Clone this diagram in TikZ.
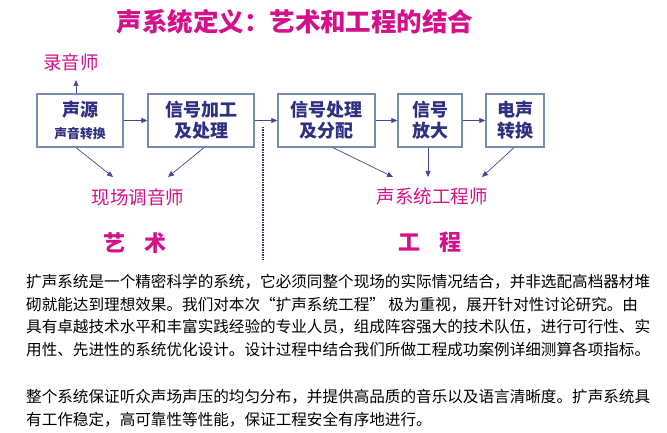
\documentclass[tikz,border=0pt]{standalone}
\usepackage{fontspec}
\newfontfamily\cjk{Noto Sans CJK SC}
\usetikzlibrary{arrows.meta}
\definecolor{mag}{RGB}{212,16,138}
\definecolor{navy}{RGB}{48,48,130}
\definecolor{boxline}{RGB}{120,140,178}
\definecolor{arr}{RGB}{70,70,150}
\tikzset{
  stagebox/.style={draw=boxline,line width=1.3pt,minimum height=53pt,inner sep=0pt,
    text=navy,align=center,font=\cjk\bfseries\fontsize{18}{21}\selectfont},
  flow/.style={draw=arr,line width=0.7pt,-{Triangle[length=6pt,width=5pt]}},
  role/.style={text=mag,font=\cjk\fontsize{18.5}{20}\selectfont,inner sep=0pt},
  para/.style={anchor=west,inner sep=0pt,font=\cjk\fontsize{15.6}{18}\selectfont}
}
\begin{document}
\begin{tikzpicture}[x=1pt,y=-1pt]
\useasboundingbox[fill=white] (0,0) rectangle (667,433);
% title
\node[text=mag,font=\cjk\bfseries\fontsize{25.5}{28}\selectfont,inner sep=0pt] (title) at (295,22) {声系统定义：艺术和工程的结合};
% boxes
\node[stagebox,minimum width=86pt] (b1) at (80,120.5) {\fontsize{18}{26}\selectfont 声源\\[1pt]{\fontsize{12.8}{14}\selectfont 声音转换}};
\node[stagebox,minimum width=106pt] (b2) at (201,120.5) {信号加工\\及处理};
\node[stagebox,minimum width=97pt] (b3) at (326.5,120.5) {信号处理\\及分配};
\node[stagebox,minimum width=64pt] (b4) at (430,120.5) {信号\\放大};
\node[stagebox,minimum width=58pt] (b5) at (515,120.5) {电声\\转换};
% roles
\node[role] (rec) at (71,62) {录音师};
\node[role] (live) at (138,197) {现场调音师};
\node[role] (eng) at (432,196) {声系统工程师};
\node[text=mag,font=\cjk\bfseries\fontsize{22}{24}\selectfont,inner sep=0pt] (art) at (135,243) {艺\hspace{0.9em}术};
\node[text=mag,font=\cjk\bfseries\fontsize{22}{24}\selectfont,inner sep=0pt] (gc) at (430,242) {工\hspace{0.9em}程};
% arrow targets
\coordinate (recT) at (76,80);
\coordinate (liveL) at (113,177);
\coordinate (liveR) at (168,177);
\coordinate (engL) at (393,177);
\coordinate (engM) at (428,177);
\coordinate (engR) at (482,177);
% connectors
\draw[flow] (b1.north -| recT) -- (recT);
\draw[flow] (b1.east) -- (b2.west);
\draw[flow] (b2.east) -- (b3.west);
\draw[flow] (b3.east) -- (b4.west);
\draw[flow] (b4.east) -- (b5.west);
\draw[flow] (b1.south -| 76,0) -- (liveL);
\draw[flow] (b2.south -| 204,0) -- (liveR);
\draw[flow] (b3.south -| 333,0) -- (engL);
\draw[flow] (b4.south -| engM) -- (engM);
\draw[flow] (b5.south -| 514,0) -- (engR);
% divider
\coordinate (dt) at (263,127);
\coordinate (db) at (263,260);
\draw[navy,line width=1.3pt,dash pattern=on 1.2pt off 1.3pt] (dt) -- (db);
% paragraph
\node[para] (l1) at (26,282) {扩声系统是一个精密科学的系统，它必须同整个现场的实际情况结合，并非选配高档器材堆};
\node[para] (l2) at (26,304.5) {砌就能达到理想效果。我们对本次“扩声系统工程” 极为重视，展开针对性讨论研究。由};
\node[para] (l3) at (26,327) {具有卓越技术水平和丰富实践经验的专业人员，组成阵容强大的技术队伍，进行可行性、实};
\node[para] (l4) at (26,349.5) {用性、先进性的系统优化设计。设计过程中结合我们所做工程成功案例详细测算各项指标。};
\node[para] (l5) at (26,397) {整个系统保证听众声场声压的均匀分布，并提供高品质的音乐以及语言清晰度。扩声系统具};
\node[para] (l6) at (26,419.5) {有工作稳定，高可靠性等性能，保证工程安全有序地进行。};
\end{tikzpicture}
\end{document}
